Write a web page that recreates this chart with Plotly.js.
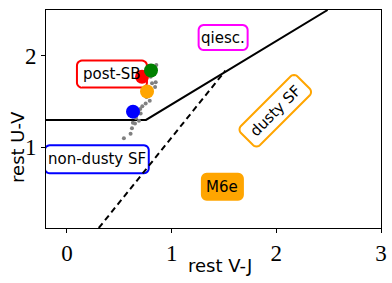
<!DOCTYPE html>
<html><head><meta charset="utf-8">
<script src="https://cdn.plot.ly/plotly-3.0.1.min.js"></script>
<style>html,body{margin:0;padding:0;background:#fff}#c{width:392px;height:283px}</style>
</head><body><div id="c"></div>
<script>
// selection boundaries
const boxX = [-0.2, 0.755, 2.49];
const boxY = [1.3, 1.3, 2.5];
const dustyX = [0.304, 1.513];
const dustyY = [0.12, 1.837];
// grey sample
const greyX = [0.854, 0.822, 0.848, 0.813, 0.842, 0.791, 0.752, 0.704, 0.688, 0.650, 0.621, 0.608, 0.544, 0.78, 0.74, 0.80, 0.72, 0.66, 0.76, 0.70, 0.63];
const greyY = [1.90, 1.83, 1.71, 1.70, 1.66, 1.51, 1.48, 1.37, 1.29, 1.26, 1.21, 1.15, 1.10, 1.58, 1.62, 1.77, 1.45, 1.32, 1.55, 1.42, 1.27];
// highlighted objects
const bigX = [0.631, 0.765, 0.717, 0.803];
const bigY = [1.39, 1.61, 1.77, 1.84];
const bigColors = ['#0000ff', '#ffa500', '#ff0000', '#008000'];
// region labels
const labText = ['qiesc.', 'post-SB', 'dusty SF', 'non-dusty SF', 'M6e'];
const labX = [1.492, 0.43, 1.99, 0.285, 1.485];
const labY = [2.199, 1.80, 1.40, 0.87, 0.57];
const labBorder = ['#ff00ff', '#ff0000', '#ffa500', '#0000ff', '#ffa500'];
const labBg = ['#ffffff', '#ffffff', '#ffffff', '#ffffff', '#ffa500'];
const labAngle = [0, 0, -45, 0, 0];
const labW = [49, 70, 80, 104, 41];
const labH = [25, 27, 27, 28, 26];
// axis titles
const xTitle = 'rest V-J';
const yTitle = 'rest U-V';

function roundRect(w, h, r, angDeg) {
  const a = angDeg * Math.PI / 180, c = Math.cos(a), s = Math.sin(a);
  const pts = [];
  const hw = w / 2, hh = h / 2;
  const corners = [[hw - r, hh - r, 0], [-hw + r, hh - r, 90], [-hw + r, -hh + r, 180], [hw - r, -hh + r, 270]];
  corners.forEach(([cx, cy, st]) => {
    for (let k = 0; k <= 6; k++) {
      const t = (st + k * 15) * Math.PI / 180;
      pts.push([cx + r * Math.cos(t), cy + r * Math.sin(t)]);
    }
  });
  return 'M' + pts.map(([x, y]) => (x * c - y * s).toFixed(2) + ',' + (x * s + y * c).toFixed(2)).join(' L') + ' Z';
}

const traces = [
  {x: boxX, y: boxY, mode: 'lines', line: {color: '#000', width: 2}, hoverinfo: 'skip'},
  {x: dustyX, y: dustyY, mode: 'lines', line: {color: '#000', width: 2, dash: '6px,4px'}, hoverinfo: 'skip'},
  {x: greyX, y: greyY, mode: 'markers', marker: {color: 'grey', size: 4}},
  {x: bigX, y: bigY, mode: 'markers', marker: {color: bigColors, size: 14}}
];
const shapes = labText.map((t, i) => ({
  type: 'path', layer: 'below', xref: 'x', yref: 'y',
  xsizemode: 'pixel', ysizemode: 'pixel', xanchor: labX[i], yanchor: labY[i],
  path: roundRect(labW[i], labH[i], 5, -labAngle[i]),
  line: {color: labBorder[i], width: 2}, fillcolor: labBg[i]
}));
const ann = labText.map((t, i) => ({
  x: labX[i], y: labY[i], xref: 'x', yref: 'y', text: t, showarrow: false,
  font: {family: 'DejaVu Sans', size: 15, color: '#000'},
  textangle: labAngle[i]
}));
const titleFont = {family: 'DejaVu Sans', size: 18, color: '#000'};
ann.push({xref: 'paper', yref: 'paper', x: 0.52, y: -0.174, text: xTitle, showarrow: false,
  xanchor: 'center', yanchor: 'middle', font: titleFont});
ann.push({xref: 'paper', yref: 'paper', x: -0.0836, y: 0.372, text: yTitle, showarrow: false,
  xanchor: 'center', yanchor: 'middle', textangle: -90, font: titleFont});

const tickFont = {family: 'Liberation Serif', size: 23, color: '#000'};
const layout = {
  width: 392, height: 283, showlegend: false,
  margin: {l: 46, r: 11, t: 10, b: 55},
  paper_bgcolor: '#fff', plot_bgcolor: '#fff',
  xaxis: {range: [-0.2, 3], tickvals: [0, 1, 2, 3], ticktext: ['0', '1', '2', '3'], ticks: 'outside', ticklen: 4, tickcolor: '#000',
    showgrid: false, zeroline: false, showline: true, linecolor: '#000', linewidth: 1, mirror: true,
    tickfont: tickFont},
  yaxis: {range: [0.12, 2.5], tickvals: [1, 2], ticktext: ['1', '2'], ticks: 'outside', ticklen: 4, tickcolor: '#000',
    showgrid: false, zeroline: false, showline: true, linecolor: '#000', linewidth: 1, mirror: true,
    tickfont: tickFont},
  shapes: shapes,
  annotations: ann
};
Plotly.newPlot('c', traces, layout, {displayModeBar: false, staticPlot: true});
</script></body></html>
